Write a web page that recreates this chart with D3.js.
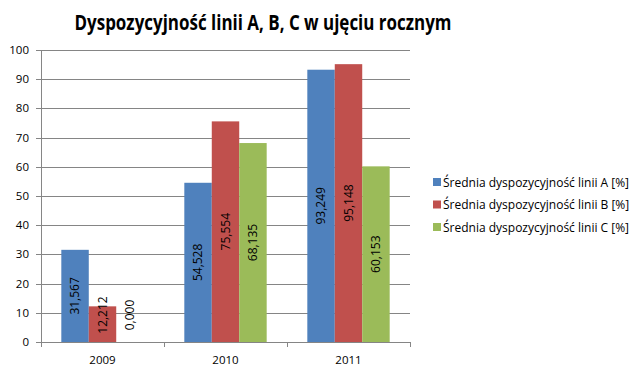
<!DOCTYPE html>
<html>
<head>
<meta charset="utf-8">
<script src="https://cdn.jsdelivr.net/npm/d3@7"></script>
<style>
  body { margin: 0; background: #fff; }
  text { font-family: "Open Sans", "Liberation Sans", sans-serif; }
</style>
</head>
<body>
<svg id="chart"></svg>
<script>
// chart size
var w = 637, h = 374;

var years = ["2009", "2010", "2011"];
var seriesNames = [
  "Średnia dyspozycyjność linii A [%]",
  "Średnia dyspozycyjność linii B [%]",
  "Średnia dyspozycyjność linii C [%]"
];
var lineA = [31.567, 54.528, 93.249];
var lineB = [12.212, 75.554, 95.148];
var lineC = [0.000, 68.135, 60.153];
var yTicks = [0, 10, 20, 30, 40, 50, 60, 70, 80, 90, 100];
var colors = ["#4F81BD", "#C0504D", "#9BBB59"];

var allSeries = [lineA, lineB, lineC];

var svg = d3.select('#chart').attr('width', w).attr('height', h);

var plotLeft = 41, plotRight = 410, plotTop = 50, plotBottom = 342;

var x = d3.scaleBand().domain(years).range([plotLeft, plotRight]).paddingInner(0).paddingOuter(0);
var inner = d3.scaleBand().domain([0, 1, 2]).range([0, x.bandwidth()]).paddingInner(0).paddingOuter(0.74);
var y = d3.scaleLinear().domain([0, 100]).range([plotBottom, plotTop]);

// title
svg.append('text')
    .attr('x', 263)
    .attr('y', 30)
    .attr('text-anchor', 'middle')
    .attr('textLength', 377)
    .attr('lengthAdjust', 'spacingAndGlyphs')
    .style('font-size', '21px')
    .style('font-weight', 'bold')
    .text('Dyspozycyjność linii A, B, C w ujęciu rocznym');

// gridlines
svg.append('g').selectAll('line').data(yTicks).enter()
    .append('line')
    .attr('x1', plotLeft - 5).attr('x2', plotRight)
    .attr('y1', function(d) { return Math.round(y(d)) + 0.5; })
    .attr('y2', function(d) { return Math.round(y(d)) + 0.5; })
    .attr('stroke', '#858585')
    .attr('stroke-width', 1);

// y axis line
svg.append('line')
    .attr('x1', plotLeft + 0.5).attr('x2', plotLeft + 0.5)
    .attr('y1', plotTop).attr('y2', plotBottom)
    .attr('stroke', '#868686');

// y labels
svg.append('g').selectAll('text').data(yTicks).enter()
    .append('text')
    .attr('x', 29)
    .attr('y', function(d) { return y(d) + 4; })
    .attr('text-anchor', 'end')
    .style('font-size', '11.5px')
    .text(function(d) { return d; });

// x ticks
var xEdges = years.map(function(d) { return x(d); }).concat([plotRight]);
svg.append('g').selectAll('line').data(xEdges).enter()
    .append('line')
    .attr('x1', function(d) { return Math.round(d) + 0.5; })
    .attr('x2', function(d) { return Math.round(d) + 0.5; })
    .attr('y1', plotBottom).attr('y2', plotBottom + 5)
    .attr('stroke', '#868686');

// x labels
svg.append('g').selectAll('text').data(years).enter()
    .append('text')
    .attr('x', function(d) { return x(d) + x.bandwidth() / 2; })
    .attr('y', 364)
    .attr('text-anchor', 'middle')
    .style('font-size', '11.5px')
    .text(function(d) { return d; });

// bars
var fmt = function(v) { return d3.format('.3f')(v).replace('.', ','); };

for (var s = 0; s < allSeries.length; s++) {
  var g = svg.append('g');
  var data = allSeries[s].map(function(v, i) { return {year: years[i], v: v, s: s}; });
  g.selectAll('rect').data(data).enter()
      .append('rect')
      .attr('x', function(d) { return x(d.year) + inner(d.s); })
      .attr('y', function(d) { return y(d.v); })
      .attr('width', inner.bandwidth())
      .attr('height', function(d) { return y(0) - y(d.v); })
      .attr('fill', colors[s]);

  g.selectAll('text').data(data).enter()
      .append('text')
      .attr('transform', function(d) {
        var cx = x(d.year) + inner(d.s) + inner.bandwidth() / 2;
        var cy = Math.min((y(d.v) + y(0)) / 2, y(0) - 27);
        return 'translate(' + cx + ',' + cy + ') rotate(-90)';
      })
      .attr('text-anchor', 'middle')
      .attr('dy', '0.35em')
      .style('font-size', '12px')
      .attr('fill', '#000')
      .text(function(d) { return fmt(d.v); });
}

// legend
var legend = svg.append('g').selectAll('g').data(seriesNames).enter()
    .append('g')
    .attr('transform', function(d, i) { return 'translate(433,' + (178 + i * 22.5) + ')'; });
legend.append('rect')
    .attr('width', 8).attr('height', 8)
    .attr('fill', function(d, i) { return colors[i]; });
legend.append('text')
    .attr('x', 10)
    .attr('y', 8.5)
    .style('font-size', '12px')
    .text(function(d) { return d; });
</script>
</body>
</html>
